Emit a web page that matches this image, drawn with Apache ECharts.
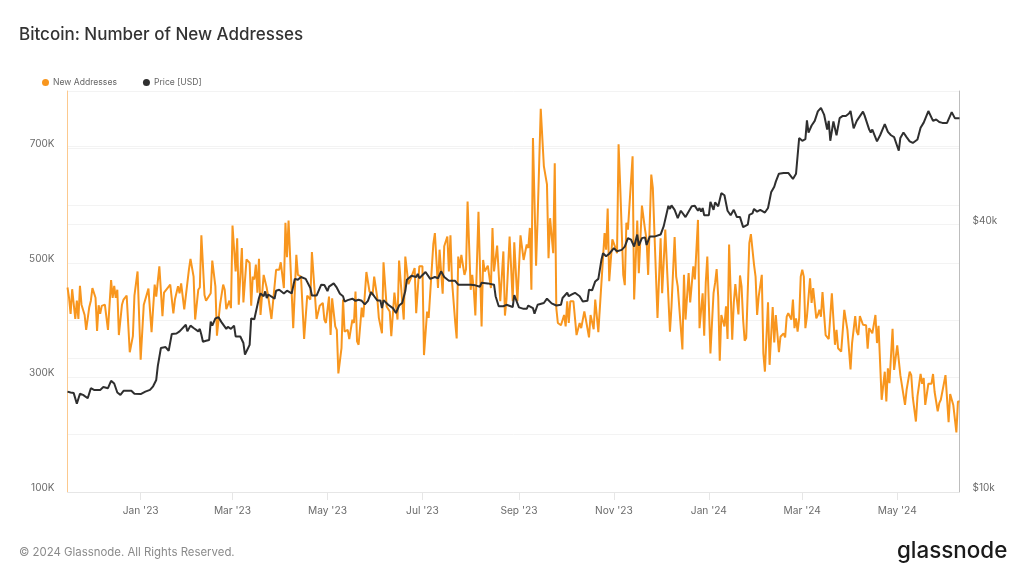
<!DOCTYPE html>
<html>
<head>
<meta charset="utf-8">
<title>Bitcoin: Number of New Addresses</title>
<script src="https://cdn.jsdelivr.net/npm/echarts@6/dist/echarts.min.js"></script>
<style>
  html, body { margin: 0; padding: 0; background: #fff; }
  #chart { width: 1024px; height: 570px; }
</style>
</head>
<body>
<div id="chart"></div>
<script>
"use strict";
// days are counted from the first date on the axis
const startDate = Date.UTC(2022, 10, 15);
const dayMs = 24 * 3600 * 1000;
const lastDay = 573;

const tickDates = ["2023-01-01", "2023-03-01", "2023-05-01", "2023-07-01", "2023-09-01", "2023-11-01", "2024-01-01", "2024-03-01", "2024-05-01"];
const addressTicks = [100, 300, 500, 700];
const priceTicks = [10000, 40000];
const priceGrid = [10000, 20000, 40000, 60000];

// new addresses, thousands
const addressDays = [
  0,1,2,3,5,6,7,8,9,11,12,14,15,16,18,19,20,21,22,24,25,26,28,29,30,31,32,33,35,36,38,40,42,43,44,45,47,49,50,52,53,54,56,57,59,60,61,62,66,68,69,70,71,72,73,75,78,79,81,82,
  84,85,86,88,89,90,92,93,95,96,98,100,101,102,104,105,106,108,109,110,112,113,115,117,118,119,120,121,122,123,124,126,128,129,131,134,136,137,139,140,141,142,145,147,148,150,152,154,156,157,159,160,162,164,165,
  166,168,169,170,172,173,174,176,177,178,179,180,181,183,184,185,186,187,189,190,192,194,196,197,198,199,200,202,203,205,207,208,210,212,213,215,216,217,219,221,223,224,226,228,229,231,232,235,236,238,239,241,242,244,245,246,247,
  249,250,251,252,253,254,255,256,257,259,260,261,262,264,266,267,268,270,272,273,274,276,277,278,280,281,282,284,286,287,289,291,293,295,296,297,298,299,301,302,304,306,307,308,309,310,312,313,314,315,317,319,320,321,322,323,325,327,329,330,
  332,333,335,336,337,338,339,341,345,346,347,348,350,352,353,354,355,357,358,359,360,363,364,366,367,369,371,372,373,375,376,379,381,382,384,387,388,390,391,392,393,395,396,397,399,400,402,403,405,406,407,408,409,410,411,413,415,
  416,417,418,419,420,422,423,424,425,427,428,429,431,432,433,434,435,436,438,439,441,442,443,444,445,446,447,448,449,450,451,453,454,455,457,458,460,461,462,463,464,465,466,467,468,469,470,471,472,473,474,475,476,477,478,479,480,481,482,483,484,485,487,488,489,491,493,494,495,497,
  499,501,502,503,504,506,507,508,509,510,511,513,514,515,516,517,519,520,521,523,524,525,526,527,528,530,531,533,535,536,538,539,541,542,543,544,545,546,548,549,550,551,552,553,555,556,557,559,560,561,564,566,567,568,569,570,571,572,573
];
const addressValues = [
  457,439,411,454,402,434,402,460,427,409,383,423,434,456,439,381,426,411,425,427,430,383,470,439,460,439,453,374,427,436,443,344,372,443,446,485,331,427,430,455,456,379,462,441,494,492,407,448,462,412,436,436,459,447,464,419,488,507,476,401,
  453,457,548,444,434,436,447,504,459,373,427,462,453,419,434,421,565,485,543,427,526,431,506,500,425,476,471,497,448,507,409,479,456,440,402,488,488,501,456,570,510,574,386,514,479,476,367,443,436,519,441,402,425,430,401,
  395,441,374,438,389,383,307,351,436,380,383,383,367,401,395,450,363,357,422,405,484,450,444,476,476,439,404,377,501,424,415,372,448,401,504,433,401,511,463,476,491,412,494,494,339,415,404,533,552,456,523,446,529,546,485,548,468,
  398,368,511,491,514,513,479,489,607,453,479,453,408,589,389,505,485,495,456,561,485,530,530,433,520,408,436,546,433,536,433,548,505,532,526,561,453,718,495,578,769,669,669,637,508,578,517,674,421,395,391,409,389,433,395,433,433,374,395,386,
  415,401,370,409,406,384,436,379,552,523,595,468,541,526,517,707,637,479,461,570,558,686,436,574,482,600,558,540,479,654,631,404,543,447,558,380,424,545,476,459,456,349,479,401,482,431,494,471,575,386,383,447,373,465,511,342,447,
  465,489,441,329,409,389,424,367,532,366,430,463,410,478,459,401,364,369,535,550,497,476,409,441,444,479,342,310,310,431,322,423,361,409,344,371,377,370,406,412,412,401,436,386,403,380,403,476,488,476,386,406,406,473,430,456,453,403,409,418,406,449,374,371,367,447,357,383,351,345,
  418,383,386,314,360,407,380,374,407,404,392,391,350,386,388,377,409,360,390,261,260,310,258,316,290,385,313,356,304,307,252,278,310,304,265,265,223,267,306,289,299,252,250,289,289,306,275,241,255,261,304,222,271,271,252,255,204,258,258
];

// price, USD
const priceDays = [
  0,2,4,6,8,10,13,15,17,19,21,22,23,26,28,30,32,33,34,36,41,43,47,50,53,55,57,58,60,63,65,67,70,72,76,77,79,81,
  82,84,85,86,87,89,91,92,93,95,97,99,102,103,105,107,108,111,113,114,115,117,118,120,123,124,126,127,128,129,133,134,136,139,141,144,146,148,150,153,154,156,157,160,163,
  165,167,168,171,173,175,177,178,180,183,185,187,189,191,193,195,197,199,201,202,203,206,209,211,213,215,217,218,221,224,225,226,230,233,236,238,240,242,245,
  249,251,254,259,260,262,265,266,270,274,275,277,280,282,286,287,290,293,295,296,299,300,302,306,308,311,314,317,318,321,322,324,326,329,331,
  332,334,335,337,339,341,343,344,346,348,351,353,356,358,360,362,364,366,367,369,371,372,374,377,381,383,386,387,388,390,392,394,397,401,403,405,406,407,408,409,412,413,415,
  416,418,420,422,424,426,428,430,432,434,437,438,440,441,443,445,448,450,452,454,455,457,460,463,466,468,470,472,474,475,476,478,480,482,484,486,488,489,490,492,
  494,496,498,499,500,502,503,505,507,508,511,512,513,515,516,517,520,522,525,527,529,531,534,535,537,539,541,543,546,548,550,551,553,556,558,560,562,565,568,570,573
];
const priceValues = [
  16830,16750,16700,15800,16640,16550,16260,17130,16980,16980,16980,16830,17230,17130,17800,17550,16750,16700,16550,16900,16900,16640,16620,16830,16980,17300,17880,19200,21100,21200,20800,22700,22750,23000,23800,23000,23700,23400,
  23200,23000,23300,22600,21800,21900,22000,24200,23700,24600,24750,24100,23300,23550,23300,23700,22400,22400,21650,20400,20200,21450,24600,24500,27350,28000,27600,28300,27350,27850,27250,28400,28550,28000,28400,28000,30200,30060,30500,30200,30200,28800,27700,27700,29300,
  29250,28350,29000,29500,28850,27950,27600,26850,27050,27250,26950,27100,26950,26450,26950,28200,27600,27000,27000,25950,27050,26400,25950,25300,26300,26650,28350,30060,30700,30500,31000,30300,31300,30200,30500,30300,31400,30500,29900,
  29900,29300,29300,29300,29600,29200,29000,29600,29500,29300,27600,26200,26200,26400,26100,27750,26050,25850,25850,26300,25950,25200,26400,26650,27250,26600,26300,26400,27350,28100,27600,27850,28100,27600,26850,
  26850,26950,28550,28450,29800,30200,33350,34500,33950,34400,35400,34850,35100,35700,37300,37000,35700,38000,35900,37300,37450,36000,37600,37600,38000,39700,44100,43400,44200,43200,41400,43000,41600,44000,44100,43000,43600,42800,43600,42000,42000,45000,43200,
  44900,44000,47100,46600,43000,42000,43200,41600,41600,39500,40000,42100,42400,43400,42800,43200,42600,43600,47300,48700,50000,52100,52300,52300,50700,52100,62700,61800,62300,68700,64500,66900,68500,72000,73300,70800,65500,68500,61800,68300,
  63600,69500,70300,70800,70300,71200,72100,65900,68500,69000,71900,70500,71200,65500,64500,65500,61600,63600,67400,64700,63600,63000,58700,62700,64500,63000,61600,61100,62200,66100,67900,67900,72100,68500,69000,68100,67800,67800,71700,69500,69500
];

const toDate = (day) => startDate + day * dayMs;
const toPoints = (days, values) => days.map((d, i) => [toDate(d), values[i]]);

const labelColor = "#6b6b6b";
const gridColor = "#f3f3f3";
const months = ["Jan", "Feb", "Mar", "Apr", "May", "Jun", "Jul", "Aug", "Sep", "Oct", "Nov", "Dec"];
const tickTimes = tickDates.map((d) => Date.parse(d));

const option = {
  animation: false,
  backgroundColor: "#fff",
  textStyle: { fontFamily: "Inter" },
  title: [
    { text: "Bitcoin: Number of New Addresses", left: 14, top: 21, textStyle: { fontFamily: "Inter", fontSize: 17, fontWeight: 500, color: "#333" } },
    { text: "© 2024 Glassnode. All Rights Reserved.", left: 14, top: 542, textStyle: { fontFamily: "Inter", fontSize: 11.4, fontWeight: 400, color: "#8a8a8a" } },
    { text: "glassnode", left: 892, top: 535, textStyle: { fontFamily: "Inter", fontSize: 22.4, fontWeight: 500, color: "#1a1a1a" } }
  ],
  legend: {
    left: 37,
    top: 73,
    icon: "circle",
    itemWidth: 7,
    itemHeight: 7,
    itemGap: 26,
    textStyle: { fontFamily: "Inter", fontSize: 8.6, color: "#666", padding: [0, 0, 0, -1] },
    data: ["New Addresses", "Price [USD]"]
  },
  grid: { left: 67.5, right: 64.5, top: 91, bottom: 78 },
  xAxis: {
    // plain value axis on timestamps, the time axis does not take customValues
    type: "value",
    min: toDate(0),
    max: toDate(lastDay),
    axisLine: { onZero: false, lineStyle: { color: "#e6e6e6" } },
    axisTick: { length: 8, lineStyle: { color: "#e6e6e6" }, customValues: tickTimes },
    axisLabel: {
      fontFamily: "Inter",
      fontSize: 10.2,
      color: labelColor,
      margin: 14,
      customValues: tickTimes,
      formatter: (v) => {
        const d = new Date(v);
        return months[d.getUTCMonth()] + " '" + String(d.getUTCFullYear()).slice(2);
      }
    },
    splitLine: { show: false }
  },
  yAxis: [
    {
      type: "value",
      min: 100,
      max: 800,
      interval: 100,
      axisLine: { show: true, onZero: false, lineStyle: { color: "#fcc98e" } },
      axisTick: { show: false },
      axisLabel: {
        fontFamily: "Inter",
        fontSize: 10,
        lineHeight: 8,
        color: labelColor,
        margin: 13,
        verticalAlign: "bottom",
        customValues: addressTicks,
        formatter: "{value}K"
      },
      splitLine: { lineStyle: { color: gridColor } }
    },
    {
      type: "log",
      logBase: 2,
      min: 10000,
      max: 80000,
      axisLine: { show: true, onZero: false, lineStyle: { color: "#bdbdbd" } },
      axisTick: { show: false, customValues: priceGrid },
      axisLabel: {
        fontFamily: "Inter",
        fontSize: 10,
        lineHeight: 8,
        color: labelColor,
        margin: 13,
        verticalAlign: "bottom",
        customValues: priceTicks,
        formatter: (v) => "$" + Math.round(v / 1000) + "k"
      },
      splitLine: { show: true, lineStyle: { color: gridColor } }
    }
  ],
  series: [
    {
      name: "New Addresses",
      type: "line",
      yAxisIndex: 0,
      showSymbol: false,
      symbol: "circle",
      itemStyle: { color: "#f8961e" },
      lineStyle: { color: "#f8961e", width: 2 },
      data: toPoints(addressDays, addressValues)
    },
    {
      name: "Price [USD]",
      type: "line",
      yAxisIndex: 1,
      showSymbol: false,
      symbol: "circle",
      itemStyle: { color: "#2f2f2f" },
      lineStyle: { color: "#2f2f2f", width: 2 },
      data: toPoints(priceDays, priceValues)
    }
  ]
};

const myChart = echarts.init(document.getElementById("chart"));
myChart.setOption(option);
</script>
</body>
</html>
